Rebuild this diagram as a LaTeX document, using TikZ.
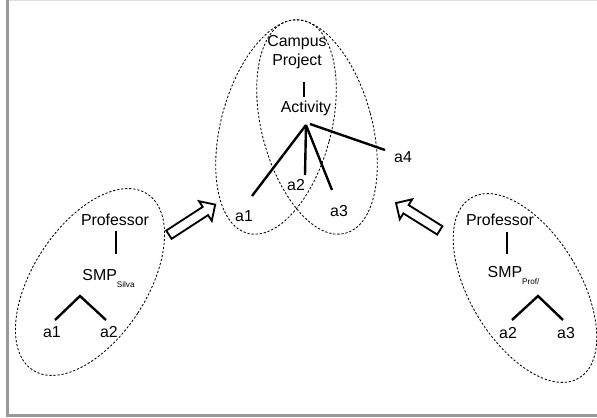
\documentclass[tikz,border=0pt]{standalone}
\usepackage{fontspec}
\setmainfont{Liberation Sans}
\usetikzlibrary{shapes,shapes.arrows,positioning}
\newcommand{\smpsub}[1]{\raisebox{-0.75ex}{\fontsize{5.8}{6}\selectfont #1}}

\begin{document}
\begin{tikzpicture}[x=0.025cm,y=-0.025cm]
             \tikzstyle{term} = [inner sep=0pt,font=\fontsize{11.3}{13.5}\selectfont]
             \tikzstyle{cluster} = [draw,ellipse,dash pattern=on 1.6pt off 1.3pt,line width=0.6pt,inner sep=0pt]
             \tikzstyle{branch} = [line width=1.7pt]
             \tikzstyle{bigarrow} = [draw,single arrow,line width=1.3pt,inner xsep=0pt,inner ysep=0.1cm,single arrow head extend=0.17cm,minimum width=0.55cm]
		% Frame
		\useasboundingbox (0,0) rectangle (597,418);
		\coordinate (f0) at (7.5,0.5);
		\coordinate (f1) at (598,0.5);
		\coordinate (f2) at (7.5,415.5);
		\coordinate (f3) at (598,415.5);
		\draw[gray!25,line width=1pt] (f0) -- (f1);
		\draw[gray!80,line width=1.5pt] (f0) -- (f2) -- (f3);
		% Campus project
		\node[term,align=center] (c0) at (297,52) {Campus\\Project};
		\node[term] (c1) at (306,108) {Activity};
		\coordinate (c0_s) at (304,82);
		\coordinate (c1_n) at (304,97);
		\draw[branch] (c0_s) -- (c1_n);
		\coordinate (c1_s) at (306,125);
		\coordinate (c1_e) at (310,124);
		\coordinate (c2_1) at (252,196);
		\coordinate (c2_2) at (305,175);
		\coordinate (c2_3) at (332,190);
		\coordinate (c2_4) at (385,150);
		\draw[branch] (c1_s) -- (c2_1);
		\draw[branch] (c1_s) -- (c2_2);
		\draw[branch] (c1_s) -- (c2_3);
		\draw[branch] (c1_e) -- (c2_4);
		\node[term] (c3_1) at (244,216) {a1};
		\node[term] (c3_2) at (296,185) {a2};
		\node[term] (c3_3) at (339,211) {a3};
		\node[term] (c3_4) at (403,157) {a4};
		\node[cluster,minimum width=2.75cm,minimum height=5.5cm,rotate=-15] (cA) at (276,127) {};
		\node[cluster,minimum width=2.75cm,minimum height=5.5cm,rotate=15] (cB) at (317,127) {};
		% SMP Silva
		\node[term] (l0) at (115,220) {Professor};
		\node[term,anchor=base] (l1) at (108.5,281) {SMP\smpsub{Silva}};
		\coordinate (l0_s) at (116,231);
		\coordinate (l1_n) at (116,254);
		\draw[branch] (l0_s) -- (l1_n);
		\coordinate (l1_s) at (80,296);
		\coordinate (l2_1) at (55,320);
		\coordinate (l2_2) at (106,320);
		\draw[branch] (l2_1) -- (l1_s) -- (l2_2);
		\node[term] (l3_1) at (52,332) {a1};
		\node[term] (l3_2) at (109,332) {a2};
		\node[cluster,minimum width=2.85cm,minimum height=5.25cm,rotate=-33] (lA) at (90,282) {};
		% SMP Profi
		\node[term] (r0) at (500,220) {Professor};
		\node[term,anchor=base] (r1) at (513.5,278) {SMP\smpsub{Prof/}};
		\coordinate (r0_s) at (507,232);
		\coordinate (r1_n) at (507,254);
		\draw[branch] (r0_s) -- (r1_n);
		\coordinate (r1_s) at (538,296);
		\coordinate (r2_1) at (512,320);
		\coordinate (r2_2) at (563,320);
		\draw[branch] (r2_1) -- (r1_s) -- (r2_2);
		\node[term] (r3_1) at (508,333) {a2};
		\node[term] (r3_2) at (566,333) {a3};
		\node[cluster,minimum width=2.75cm,minimum height=5.25cm,rotate=31] (rA) at (525,288) {};
		% Merge arrows
		\node[bigarrow,minimum height=1.38cm,rotate=33] (m1) at (190,221) {};
		\node[bigarrow,minimum height=1.29cm,rotate=148] (m2) at (420,218) {};
\end{tikzpicture}
\end{document}
